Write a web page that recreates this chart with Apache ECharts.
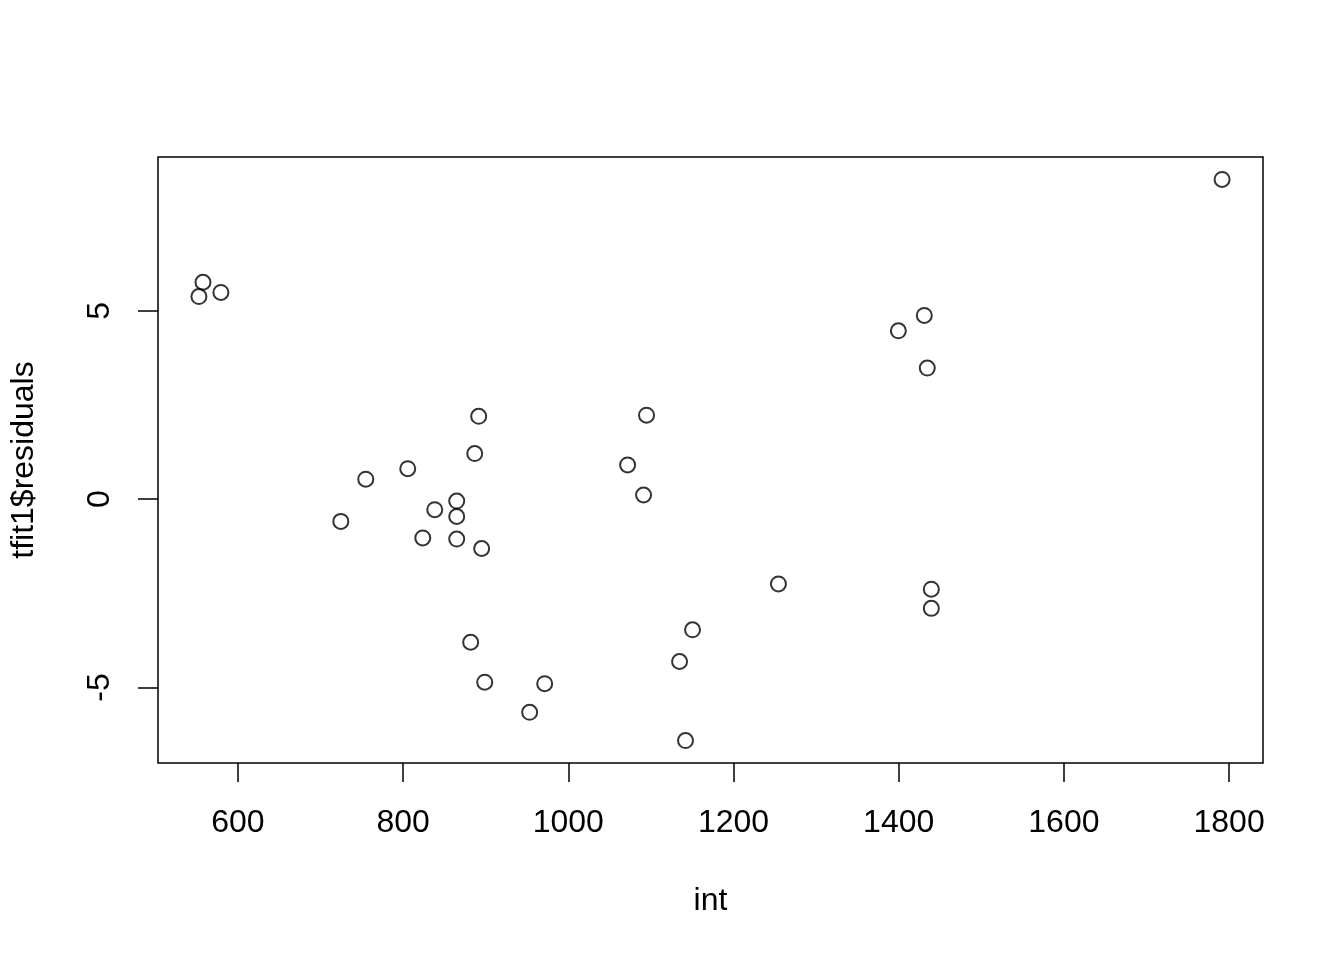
<!DOCTYPE html>
<html>
<head>
<meta charset="utf-8">
<script src="https://cdn.jsdelivr.net/npm/echarts@6/dist/echarts.min.js"></script>
<style>
html,body{margin:0;padding:0;background:#fff;}
#chart{width:1344px;height:960px;}
</style>
</head>
<body>
<div id="chart"></div>
<script>
const intValues = [1791.5, 557.7, 552.8, 579.4, 1431.0, 1399.6, 1434.6, 891.5, 1094.7, 886.7,
  1071.8, 805.6, 754.8, 1091.1, 864.9, 838.3, 864.9, 724.6, 823.8, 864.9,
  895.1, 1254.4, 1439.5, 1439.5, 1150.4, 881.8, 1134.7, 898.8, 971.4, 953.2, 1141.9];
const residuals = [8.49, 5.76, 5.38, 5.49, 4.88, 4.47, 3.48, 2.20, 2.23, 1.21,
  0.91, 0.81, 0.53, 0.11, -0.05, -0.28, -0.46, -0.59, -1.03, -1.06,
  -1.31, -2.25, -2.39, -2.90, -3.47, -3.80, -4.31, -4.86, -4.90, -5.66, -6.41];
const xTicks = [600, 800, 1000, 1200, 1400, 1600, 1800];
const yTicks = [-5, 0, 5];
const xTitle = 'int';
const yTitle = 'tfit1$residuals';

// R-style 4% range extension
function ext(arr){const mn=Math.min(...arr),mx=Math.max(...arr),d=(mx-mn)*0.04;return [mn-d,mx+d];}
const xr = ext(intValues), yr = ext(residuals);

const font = '"Liberation Sans", Arial, Helvetica, sans-serif';
const chart = echarts.init(document.getElementById('chart'));
chart.setOption({
  animation: false,
  backgroundColor: '#fff',
  grid: {left:157, right:81, top:157, bottom:197, show:true, borderColor:'#000', borderWidth:1.5, backgroundColor:'transparent'},
  xAxis: {
    type:'value', min:xr[0], max:xr[1],
    name: xTitle, nameLocation:'middle', nameGap:122,
    nameTextStyle:{fontSize:32, color:'#000', fontFamily:font},
    axisLine:{show:false, onZero:false},
    splitLine:{show:false},
    axisTick:{show:true, customValues:xTicks, length:19, lineStyle:{color:'#000', width:1.5}},
    axisLabel:{customValues:xTicks, fontSize:32, color:'#000', fontFamily:font, margin:44, formatter:v=>String(v)}
  },
  yAxis: {
    type:'value', min:yr[0], max:yr[1],
    name: yTitle, nameLocation:'middle', nameGap:118, nameRotate:90,
    nameTextStyle:{fontSize:32, color:'#000', fontFamily:font},
    axisLine:{show:false, onZero:false},
    splitLine:{show:false},
    axisTick:{show:true, customValues:yTicks, length:20, lineStyle:{color:'#000', width:1.5}},
    axisLabel:{customValues:yTicks, fontSize:32, color:'#000', fontFamily:font, rotate:90, margin:42, formatter:v=>String(v)}
  },
  series: [{
    type:'scatter',
    data: intValues.map((v,i)=>[v, residuals[i]]),
    symbol:'circle', symbolSize:15,
    itemStyle:{color:'rgba(0,0,0,0)', borderColor:'#000', borderWidth:2},
    emphasis:{disabled:true}
  }]
});
</script>
</body>
</html>
